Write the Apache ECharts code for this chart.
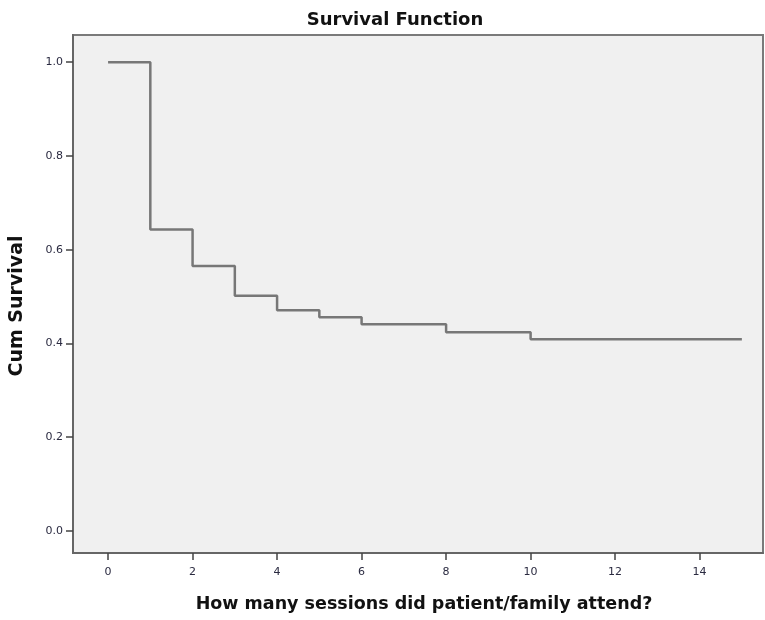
<!DOCTYPE html>
<html><head><meta charset="utf-8">
<script src="https://cdn.jsdelivr.net/npm/echarts@6/dist/echarts.min.js"></script>
<style>html,body{margin:0;padding:0;background:#fff}#c{width:765px;height:620px}</style>
</head><body><div id="c"></div>
<script>
const sessions = [0, 1, 2, 3, 4, 5, 6, 8, 10, 15];
const cumSurvival = [1.0, 0.643, 0.565, 0.502, 0.471, 0.456, 0.441, 0.424, 0.409, 0.409];
const xTicks = [0, 2, 4, 6, 8, 10, 12, 14];
const yTicks = [0, 0.2, 0.4, 0.6, 0.8, 1.0];

const chart = echarts.init(document.getElementById('c'));
chart.setOption({
  animation: false,
  backgroundColor: '#ffffff',
  title: {
    text: 'Survival Function', left: 390, top: 6, textAlign: 'center',
    textStyle: {fontFamily: 'DejaVu Sans', fontWeight: 'bold', fontSize: 18, color: '#111'}
  },
  grid: {left: 72, top: 35, width: 691, height: 518, show: true,
    backgroundColor: '#f0f0f0', borderColor: '#7a7a7a', borderWidth: 2},
  xAxis: {
    type: 'value', min: -0.83, max: 15.5,
    name: 'How many sessions did patient/family attend?', nameLocation: 'middle', nameGap: 42,
    nameTextStyle: {fontFamily: 'DejaVu Sans', fontWeight: 'bold', fontSize: 17.5, color: '#111', padding: [0, 0, 0, 12]},
    axisLine: {show: true, onZero: false, lineStyle: {color: '#666', width: 2}},
    axisTick: {show: true, customValues: xTicks, length: 7, lineStyle: {color: '#444', width: 1.5}},
    axisLabel: {customValues: xTicks, fontFamily: 'DejaVu Sans', fontSize: 11, color: '#2a2a40', margin: 14},
    splitLine: {show: false}
  },
  yAxis: {
    type: 'value', min: -0.047, max: 1.058,
    name: 'Cum Survival', nameLocation: 'middle', nameGap: 46,
    nameTextStyle: {fontFamily: 'DejaVu Sans', fontWeight: 'bold', fontSize: 19, color: '#111', padding: [0, 24, 0, 0]},
    axisLine: {show: true, onZero: false, lineStyle: {color: '#666', width: 2}},
    axisTick: {show: true, customValues: yTicks, length: 7, lineStyle: {color: '#444', width: 1.5}},
    axisLabel: {customValues: yTicks, formatter: v => v.toFixed(1), fontFamily: 'DejaVu Sans', fontSize: 11, color: '#2a2a40', margin: 10},
    splitLine: {show: false}
  },
  series: [{
    type: 'line', step: 'end', symbol: 'none',
    data: sessions.map((s, i) => [s, cumSurvival[i]]),
    lineStyle: {color: '#777', width: 2.5}
  }]
});
</script></body></html>
